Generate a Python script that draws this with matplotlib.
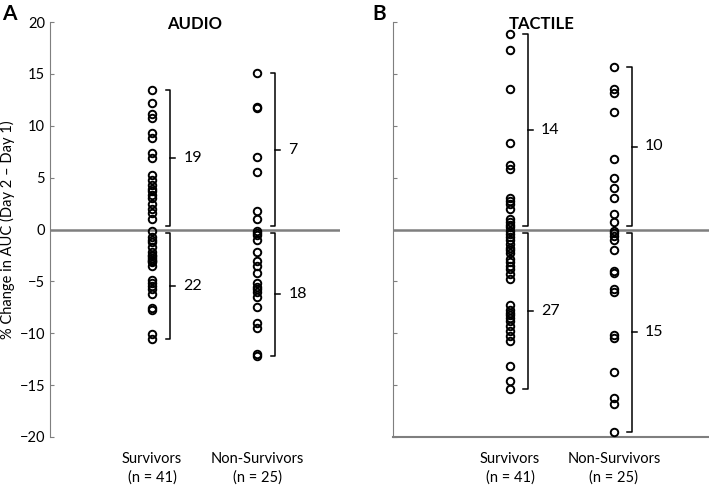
import numpy as np
import matplotlib
matplotlib.use('Agg')
import matplotlib.pyplot as plt

plt.rcParams['font.family'] = ['Lato', 'DejaVu Sans']

# data (% change in AUC, day 2 - day 1)
audio_surv = [13.4, 12.2, 11.1, 10.7, 9.3, 8.8, 7.4, 6.9, 5.3, 4.8, 4.3, 3.9, 3.7, 3.3, 3.0,
              2.5, 2.0, 1.6, 1.0,
              -0.1, -0.7, -1.0, -1.2, -1.7, -2.2, -2.5, -2.6, -2.7, -2.9, -3.0, -3.1, -3.5,
              -4.9, -5.2, -5.4, -5.7, -6.2, -7.6, -7.8, -10.1, -10.6]
audio_nonsurv = [15.1, 11.8, 11.7, 7.0, 5.5, 1.8, 1.0,
                 -0.1, -0.3, -0.5, -1.0, -2.2, -3.0, -3.5, -4.2, -5.2, -5.5, -5.7, -6.0,
                 -6.5, -7.5, -9.0, -9.5, -12.0, -12.2]
tact_surv = [18.8, 17.3, 13.5, 8.3, 6.2, 5.8, 3.0, 2.7, 2.5, 2.0, 1.0, 0.7, 0.4, 0.2,
             -0.1, -0.4, -0.7, -1.0, -1.4, -1.8, -2.0, -2.3, -2.8, -3.1, -3.5, -3.8, -4.3,
             -4.8, -7.3, -7.8, -8.0, -8.2, -8.5, -8.8, -9.3, -9.8, -10.3, -10.7, -13.2,
             -14.6, -15.4]
tact_nonsurv = [15.7, 13.5, 13.2, 11.3, 6.8, 5.0, 4.0, 3.0, 1.5, 0.7,
                -0.1, -0.3, -0.6, -1.0, -2.0, -4.0, -4.2, -5.7, -6.0, -10.2, -10.5,
                -13.7, -16.2, -16.8, -19.5]

groups = ['Survivors\n(n = 41)', 'Non-Survivors\n(n = 25)']
gray = '#7f7f7f'

fig = plt.figure(figsize=(7.09, 4.88), dpi=100)
ax1 = fig.add_axes([50 / 709, 1 - 437 / 488, 290 / 709, 415 / 488])
ax2 = fig.add_axes([393 / 709, 1 - 437 / 488, 316 / 709, 415 / 488])


def bracket(ax, x, y0, y1, label):
    bx = x + 0.17
    ax.plot([bx - 0.04, bx, bx, bx - 0.04], [y1, y1, y0, y0], color='black', lw=1.1,
            solid_joinstyle='round')
    mid = (y0 + y1) / 2
    ax.plot([bx, bx + 0.05], [mid, mid], color='black', lw=1.1)
    ax.text(bx + 0.13, mid, label, va='center', ha='left', fontsize=11.5)


def panel(ax, surv, nonsurv, xlim, title, title_x, show_labels):
    ax.axhline(0, color=gray, lw=1.8, zorder=1)
    for x, vals in [(1, surv), (2, nonsurv)]:
        vals = np.array(vals)
        ax.plot(np.full(len(vals), x), vals, 'o', mfc='none', mec='black', ms=5.4,
                mew=1.4, zorder=3)
        pos = vals[vals > 0]
        neg = vals[vals <= 0]
        bracket(ax, x, 0.3, pos.max(), str(len(pos)))
        bracket(ax, x, -0.3, neg.min(), str(len(neg)))
    ax.set_xlim(*xlim)
    ax.set_ylim(-20, 20)
    ax.set_xticks([1, 2])
    ax.set_xticklabels(groups, fontsize=10.5, linespacing=1.35)
    ax.set_yticks(np.arange(-20, 21, 5))
    ax.tick_params(axis='x', length=0, pad=11)
    ax.tick_params(axis='y', direction='in', length=3, color=gray, labelsize=10.5)
    for s in ['top', 'right']:
        ax.spines[s].set_visible(False)
    ax.spines['left'].set_color(gray)
    ax.spines['bottom'].set_color(gray)
    ax.spines['bottom'].set_linewidth(1.5)
    if not show_labels:
        ax.set_yticklabels([])
    ax.text(title_x, 0.995, title, transform=ax.transAxes, ha='center', va='center',
            fontsize=12, fontweight='bold')


panel(ax1, audio_surv, audio_nonsurv, (0.028, 2.79), 'AUDIO', 0.5, True)
panel(ax2, tact_surv, tact_nonsurv, (-0.125, 2.915), 'TACTILE', 0.47, False)
ax1.spines['bottom'].set_visible(False)
ax1.set_ylabel('% Change in AUC (Day 2 \u2013 Day 1)', fontsize=10.5, labelpad=3)

fig.text(2 / 709, 1 - 20 / 488, 'A', fontsize=15, fontweight='bold')
fig.text(372 / 709, 1 - 20 / 488, 'B', fontsize=15, fontweight='bold')

fig.savefig('out.png', dpi=100)
